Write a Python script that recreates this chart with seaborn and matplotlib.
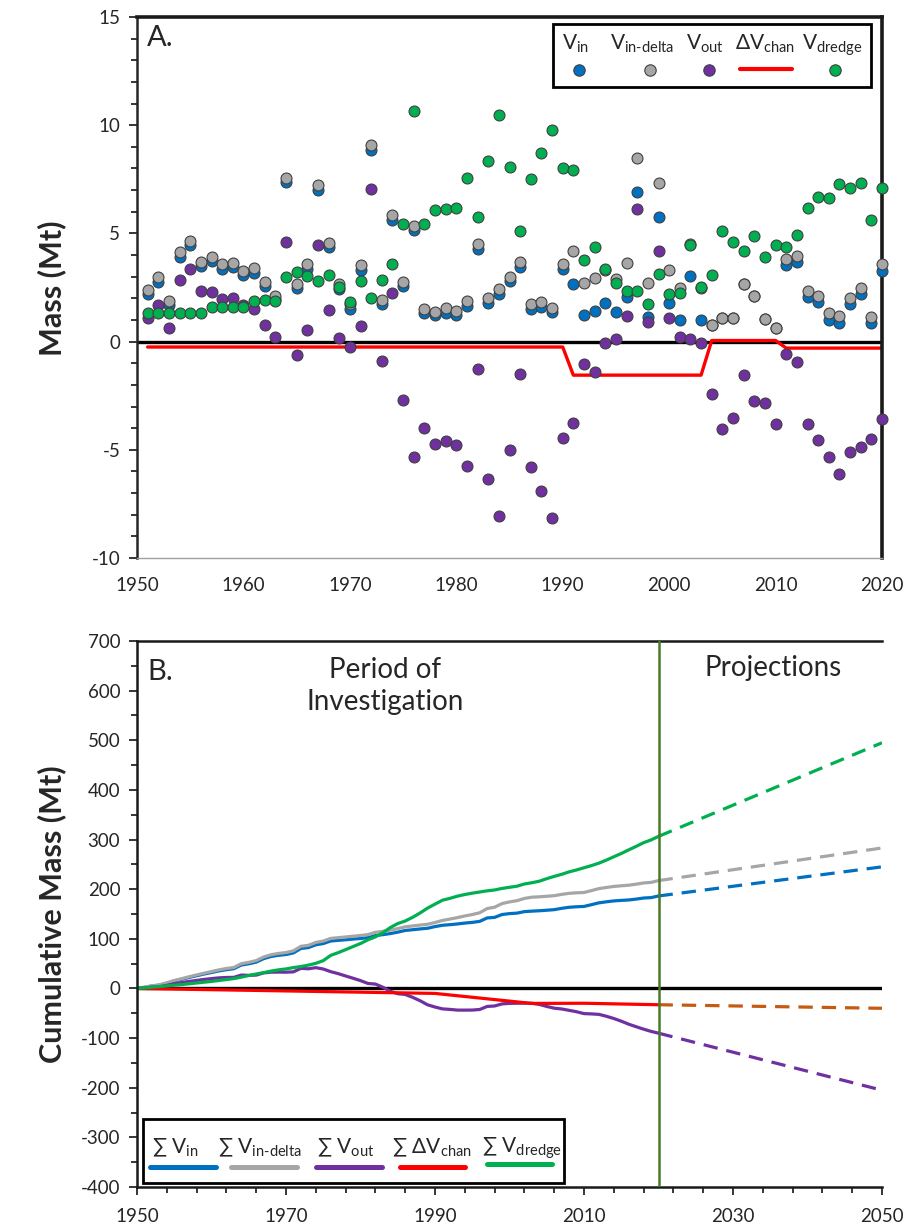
import numpy as np
import matplotlib
matplotlib.use("Agg")
import matplotlib.pyplot as plt
from matplotlib.lines import Line2D
from matplotlib.patches import Rectangle
from matplotlib.ticker import MultipleLocator, FixedLocator
import seaborn as sns

# ---------------------------------------------------------------- data
years = list(range(1951, 2021))

v_in = [2.21, 2.75, 1.68, 3.93, 4.47, 3.48, 3.74, 3.36, 3.43, 3.06,
        3.19, 2.55, 1.98, 7.37, 2.47, 3.36, 7.02, 4.36, 2.45, 1.49,
        3.33, 8.86, 1.75, 5.62, 2.55, 5.14, 1.30, 1.21, 1.33, 1.21,
        1.64, 4.30, 1.80, 2.18, 2.82, 3.43, 1.49, 1.60, 1.37, 3.36,
        2.64, 1.22, 1.42, 1.80, 1.36, 2.06, 6.91, 1.14, 5.78, 1.80,
        0.99, 3.02, 0.99, 0.75, 1.11, 1.10, 2.68, 2.13, 1.04, 0.65,
        3.56, 3.69, 2.08, 1.83, 1.02, 0.87, 1.72, 2.18, 0.84, 3.28]

v_in_delta = [2.39, 2.97, 1.87, 4.15, 4.65, 3.66, 3.92, 3.58, 3.61, 3.25,
              3.40, 2.75, 2.13, 7.58, 2.64, 3.58, 7.25, 4.57, 2.66, 1.72,
              3.54, 9.08, 1.93, 5.84, 2.75, 5.34, 1.52, 1.37, 1.57, 1.42,
              1.86, 4.53, 2.03, 2.41, 3.00, 3.66, 1.72, 1.82, 1.57, 3.58,
              4.19, 2.71, 2.93, 3.33, 2.87, 3.61, 8.47, 2.70, 7.35, 3.31,
              2.50, 4.53, 2.50, 0.75, 1.11, 1.10, 2.68, 2.13, 1.04, 0.65,
              3.81, 3.96, 2.33, 2.13, 1.30, 1.17, 2.03, 2.48, 1.15, 3.58]

v_out = [1.07, 1.68, 0.61, 2.85, 3.36, 2.36, 2.29, 1.95, 2.01, 1.68,
         1.49, 0.79, 0.23, 4.61, -0.61, 0.53, 4.45, 1.45, 0.18, -0.23,
         0.72, 7.05, -0.89, 2.24, -2.70, -5.31, -3.97, -4.73, -4.58, -4.76,
         -5.73, -1.27, -6.35, -8.06, -5.01, -1.48, -5.80, -6.90, -8.17, -4.47,
         -3.74, -1.03, -1.41, -0.05, 0.12, 1.17, 6.13, 0.91, 4.19, 1.07,
         0.23, 0.10, -0.08, -2.41, -4.02, -3.51, -1.56, -2.75, -2.85, -3.79,
         -0.57, -0.95, -3.79, -4.54, -5.34, -6.11, -5.11, -4.89, -4.50, -3.59]

dv_chan = [-0.25, -0.25, -0.25, -0.25, -0.25, -0.25, -0.25, -0.25, -0.25, -0.25,
           -0.25, -0.25, -0.25, -0.25, -0.25, -0.25, -0.25, -0.25, -0.25, -0.25,
           -0.25, -0.25, -0.25, -0.25, -0.25, -0.25, -0.25, -0.25, -0.25, -0.25,
           -0.25, -0.25, -0.25, -0.25, -0.25, -0.25, -0.25, -0.25, -0.25, -0.25,
           -1.55, -1.55, -1.55, -1.55, -1.55, -1.55, -1.55, -1.55, -1.55, -1.55,
           -1.55, -1.55, -1.55, 0.05, 0.05, 0.05, 0.05, 0.05, 0.05, 0.05,
           -0.30, -0.30, -0.30, -0.30, -0.30, -0.30, -0.30, -0.30, -0.30, -0.30]

v_dredge = [1.30, 1.30, 1.30, 1.30, 1.30, 1.30, 1.60, 1.60, 1.60, 1.60,
            1.87, 1.93, 1.87, 2.97, 3.23, 3.02, 2.82, 3.09, 2.51, 1.81,
            2.80, 2.01, 2.86, 3.58, 5.44, 10.65, 5.44, 6.10, 6.15, 6.18,
            7.55, 5.78, 8.35, 10.48, 8.06, 5.11, 7.51, 8.70, 9.77, 8.01,
            7.93, 3.77, 4.35, 3.36, 2.72, 2.36, 2.33, 1.75, 3.13, 2.21,
            2.26, 4.45, 2.51, 3.09, 5.11, 4.58, 4.19, 4.88, 3.89, 4.45,
            4.35, 4.91, 6.18, 6.67, 6.62, 7.28, 7.12, 7.35, 5.61, 7.12]

# projected cumulative totals
proj_years = [2020, 2050]
proj_in = 245
proj_in_delta = 283
proj_out = -205
proj_chan = -40
proj_dredge = 495

top_xticks = [1950, 1960, 1970, 1980, 1990, 2000, 2010, 2020]
bot_xticks = [1950, 1970, 1990, 2010, 2030, 2050]

# ---------------------------------------------------------------- style
C_IN, C_DELTA, C_OUT, C_CHAN, C_DREDGE = "#0070C0", "#A6A6A6", "#7030A0", "#FF0000", "#00B050"
C_CHAN_PROJ = "#C55A11"
EDGE = "#404040"

sns.set_style("ticks")
plt.rcParams.update({
    "font.family": ["Lato", "DejaVu Sans"],
    "mathtext.fontset": "custom",
    "mathtext.rm": "Lato",
    "mathtext.it": "Lato:italic",
    "mathtext.bf": "Lato:bold",
    "axes.unicode_minus": False,
    "xtick.direction": "out",
    "ytick.direction": "out",
})

W, H = 909, 1230
fig = plt.figure(figsize=(W / 100, H / 100), dpi=100)


def fx(px):
    return px / W


def fy(py):
    return 1 - py / H


ax1 = fig.add_axes([fx(137), fy(558), (882 - 137) / W, (558 - 17) / H])
ax2 = fig.add_axes([fx(137), fy(1187), (882 - 137) / W, (1187 - 641) / H])

# ---------------------------------------------------------------- panel A
ax1.axhline(0, color="black", lw=2.4, zorder=1)
sns.lineplot(x=years, y=dv_chan, ax=ax1, color=C_CHAN, lw=2.4, zorder=2)
for vals, col in [(v_in, C_IN), (v_in_delta, C_DELTA), (v_out, C_OUT), (v_dredge, C_DREDGE)]:
    sns.scatterplot(x=years, y=vals, ax=ax1, color=col, s=62, edgecolor=EDGE,
                    linewidth=0.8, zorder=3, legend=False, clip_on=False)

ax1.set_xlim(1950, 2020)
ax1.set_ylim(-10, 15)
ax1.xaxis.set_major_locator(FixedLocator(top_xticks))
ax1.yaxis.set_major_locator(MultipleLocator(5))
ax1.yaxis.set_minor_locator(MultipleLocator(1))
ax1.tick_params(axis="y", which="major", length=6, width=1.3, labelsize=13.5, pad=6)
ax1.tick_params(axis="y", which="minor", length=4, width=1.3)
ax1.tick_params(axis="x", which="major", length=0, labelsize=13.5, pad=14)
ax1.set_xlabel("")
ax1.set_ylabel("")
for side in ["top", "right"]:
    ax1.spines[side].set_linewidth(2.6)
    ax1.spines[side].set_color("#1a1a1a")
ax1.spines["left"].set_linewidth(1.8)
ax1.spines["bottom"].set_linewidth(1.0)
ax1.spines["bottom"].set_color("#A0A0A0")

fig.text(fx(147), fy(46), "A.", fontsize=21, va="baseline", ha="left")
fig.text(fx(52), fy(288), "Mass (Mt)", fontsize=22, fontweight="bold",
         rotation=90, ha="center", va="center")

# legend of panel A: labels above their symbols
fig.add_artist(Rectangle((fx(553), fy(87)), (871 - 553) / W, (87 - 24) / H,
                         transform=fig.transFigure, facecolor="white",
                         edgecolor="black", lw=2))
top_labels = [r"V$_{\mathrm{in}}$", r"V$_{\text{in-delta}}$", r"V$_{\mathrm{out}}$",
              r"ΔV$_{\mathrm{chan}}$", r"V$_{\mathrm{dredge}}$"]
top_label_x = [576, 642, 705, 765, 832]
for lab, px in zip(top_labels, top_label_x):
    fig.text(fx(px), fy(50), lab, fontsize=15, ha="center", va="baseline")
for px, col in [(579, C_IN), (650, C_DELTA), (709, C_OUT), (835, C_DREDGE)]:
    fig.add_artist(Line2D([fx(px)], [fy(70)], marker="o", markersize=8.2,
                          markerfacecolor=col, markeredgecolor=EDGE,
                          markeredgewidth=0.8, transform=fig.transFigure))
fig.add_artist(Line2D([fx(740), fx(792)], [fy(69), fy(69)], color=C_CHAN, lw=3,
                      solid_capstyle="round", transform=fig.transFigure))

# ---------------------------------------------------------------- panel B
cum_years = [1950] + years
series = [
    (v_in, proj_in, C_IN, C_IN),
    (v_in_delta, proj_in_delta, C_DELTA, C_DELTA),
    (v_out, proj_out, C_OUT, C_OUT),
    (dv_chan, proj_chan, C_CHAN, C_CHAN_PROJ),
    (v_dredge, proj_dredge, C_DREDGE, C_DREDGE),
]
ax2.plot([1950, 2050], [0, 0], color="black", lw=2.4, zorder=1)
for vals, proj, col, pcol in series:
    cum = np.concatenate([[0.0], np.cumsum(vals)])
    sns.lineplot(x=cum_years, y=cum, ax=ax2, color=col, lw=2.3, zorder=2)
    sns.lineplot(x=proj_years, y=[cum[-1], proj], ax=ax2, color=pcol, lw=2.3,
                 linestyle=(0, (4.5, 2.8)), zorder=2)
ax2.axvline(2020, color="#4A7A25", lw=1.8, zorder=3)

ax2.set_xlim(1950, 2050)
ax2.set_ylim(-400, 700)
ax2.xaxis.set_major_locator(FixedLocator(bot_xticks))
ax2.xaxis.set_minor_locator(FixedLocator(list(range(1950, 2051, 4))))
ax2.yaxis.set_major_locator(MultipleLocator(100))
ax2.yaxis.set_minor_locator(MultipleLocator(50))
ax2.tick_params(which="major", length=6, width=1.3, labelsize=13.5, pad=6)
ax2.tick_params(axis="x", which="major", pad=9)
ax2.tick_params(which="minor", length=4, width=1.3)
ax2.set_xlabel("")
ax2.set_ylabel("")
ax2.spines["right"].set_visible(False)
for side in ["left", "bottom", "top"]:
    ax2.spines[side].set_linewidth(1.8)
    ax2.spines[side].set_color("#1a1a1a")

fig.text(fx(147), fy(680), "B.", fontsize=21, va="baseline", ha="left")
fig.text(fx(385), fy(686), "Period of\nInvestigation", fontsize=20,
         ha="center", va="center", linespacing=1.25)
fig.text(fx(773), fy(668), "Projections", fontsize=20, ha="center", va="center")
fig.text(fx(52), fy(914), "Cumulative Mass (Mt)", fontsize=22, fontweight="bold",
         rotation=90, ha="center", va="center")

# legend of panel B: labels above their line samples
fig.add_artist(Rectangle((fx(143), fy(1183)), (564 - 143) / W, (1183 - 1119) / H,
                         transform=fig.transFigure, facecolor="white",
                         edgecolor="black", lw=2))
bot_labels = [r"∑ V$_{\mathrm{in}}$", r"∑ V$_{\text{in-delta}}$", r"∑ V$_{\mathrm{out}}$",
              r"∑ ΔV$_{\mathrm{chan}}$", r"∑ V$_{\mathrm{dredge}}$"]
bot_label_x = [175, 260, 346, 432, 522]
for lab, px in zip(bot_labels, bot_label_x):
    fig.text(fx(px), fy(1153), lab, fontsize=15, ha="center", va="baseline")
for (x0, x1, yy), col in zip([(150, 216, 1167), (231, 297, 1167), (316, 382, 1167),
                              (400, 465, 1167), (487, 552, 1164)],
                             [C_IN, C_DELTA, C_OUT, C_CHAN, C_DREDGE]):
    fig.add_artist(Line2D([fx(x0), fx(x1)], [fy(yy), fy(yy)], color=col, lw=3.6,
                          solid_capstyle="round", transform=fig.transFigure))

fig.savefig("out.png", dpi=100)
